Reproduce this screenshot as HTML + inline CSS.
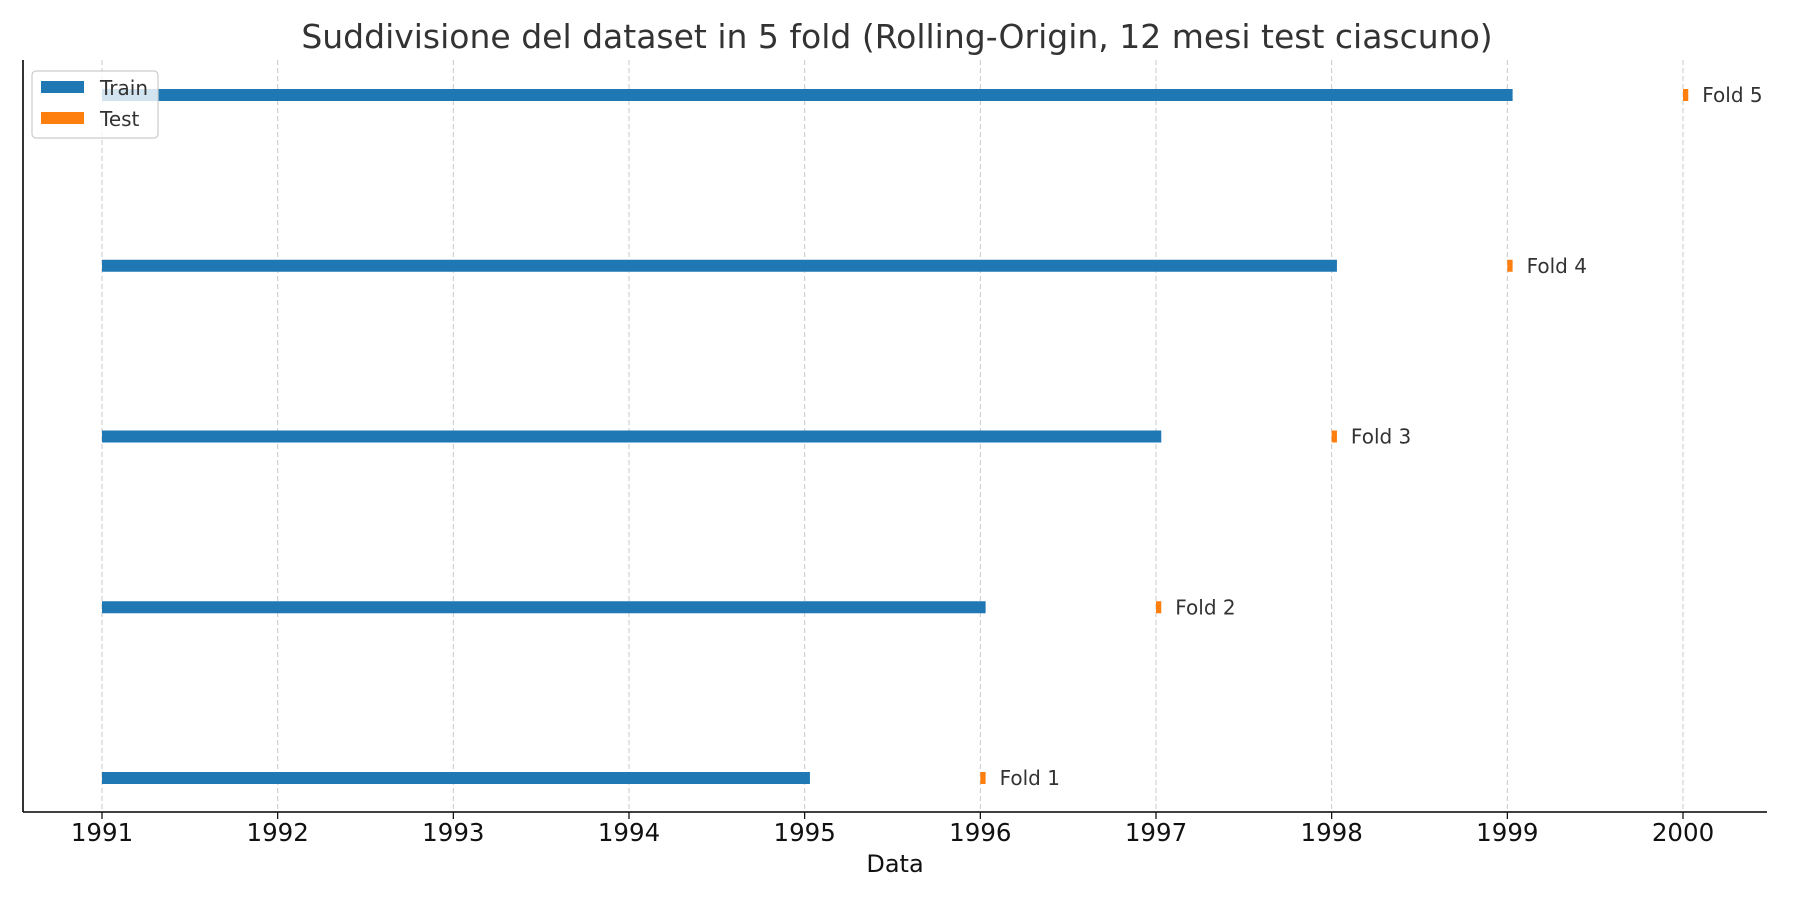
<!DOCTYPE html>
<html><head><meta charset="utf-8"><style>
body{margin:0;background:#fff;}
svg text{font-family:"DejaVu Sans","Liberation Sans",sans-serif;fill:#333;}
</style></head><body>
<svg id="chart" width="1800" height="900" viewBox="0 0 1800 900">
<text x="897" y="48" font-size="33" text-anchor="middle">Suddivisione del dataset in 5 fold (Rolling-Origin, 12 mesi test ciascuno)</text>
<g id="grid"></g>
<g id="bars"></g>
<line x1="23" y1="60" x2="23" y2="812" stroke="#000" stroke-width="1.6"/>
<line x1="23" y1="812" x2="1767" y2="812" stroke="#000" stroke-width="1.6"/>
<g id="ticks"></g>
<text x="895" y="872" font-size="24" text-anchor="middle" fill="#111" style="fill:#111">Data</text>
<g>
<rect x="32" y="71" width="126" height="67" rx="4" fill="#fff" fill-opacity="0.8" stroke="#ccc" stroke-width="1.2"/>
<rect x="41" y="81" width="43" height="12" fill="#1f77b4"/>
<text x="100" y="95" font-size="20">Train</text>
<rect x="41" y="112" width="43" height="12" fill="#ff7f0e"/>
<text x="100" y="126" font-size="20">Test</text>
</g>
</svg>
<script>
const foldLabels=["Fold 1","Fold 2","Fold 3","Fold 4","Fold 5"];
const trainStart=[1991.0,1991.0,1991.0,1991.0,1991.0];
const trainEnd=[1995.03,1996.03,1997.03,1998.03,1999.03];
const testStart=[1996.0,1997.0,1998.0,1999.0,2000.0];
const testEnd=[1996.03,1997.03,1998.03,1999.03,2000.03];
const tickYears=[1991,1992,1993,1994,1995,1996,1997,1998,1999,2000];
const NS="http://www.w3.org/2000/svg";
const X=v=>102+(v-1991)*(1683-102)/9;
const Y=i=>778-i*(778-95)/4;
function mk(t,a,p){const e=document.createElementNS(NS,t);for(const k in a)e.setAttribute(k,a[k]);p.appendChild(e);return e;}
const grid=document.getElementById('grid'),ticks=document.getElementById('ticks'),bars=document.getElementById('bars');
tickYears.forEach(y=>{
 const g=mk('line',{x1:X(y),x2:X(y),y1:60,y2:812,stroke:'#c8c8c8','stroke-width':1,'stroke-dasharray':'5,3'},grid);
 
 
 const t=mk('line',{x1:X(y),x2:X(y),y1:812,y2:819,stroke:'#000','stroke-width':1.2},ticks);
 
 
 const l=mk('text',{x:X(y),y:841,'font-size':24.5,'text-anchor':'middle',style:'fill:#111'},ticks);
 l.textContent=y;
 
 
});
foldLabels.forEach((f,i)=>{
 const y=Y(i);
 const tr=mk('rect',{x:X(trainStart[i]),y:y-6,width:X(trainEnd[i])-X(trainStart[i]),height:12,fill:'#1f77b4'},bars);
 
 
 const te=mk('rect',{x:X(testStart[i]),y:y-6,width:X(testEnd[i])-X(testStart[i]),height:12,fill:'#ff7f0e'},bars);
 
 
 const l=mk('text',{x:X(testEnd[i])+14,y:y+7,'font-size':20},bars);
 l.textContent=f;
 
 
});
</script>
</body></html>
